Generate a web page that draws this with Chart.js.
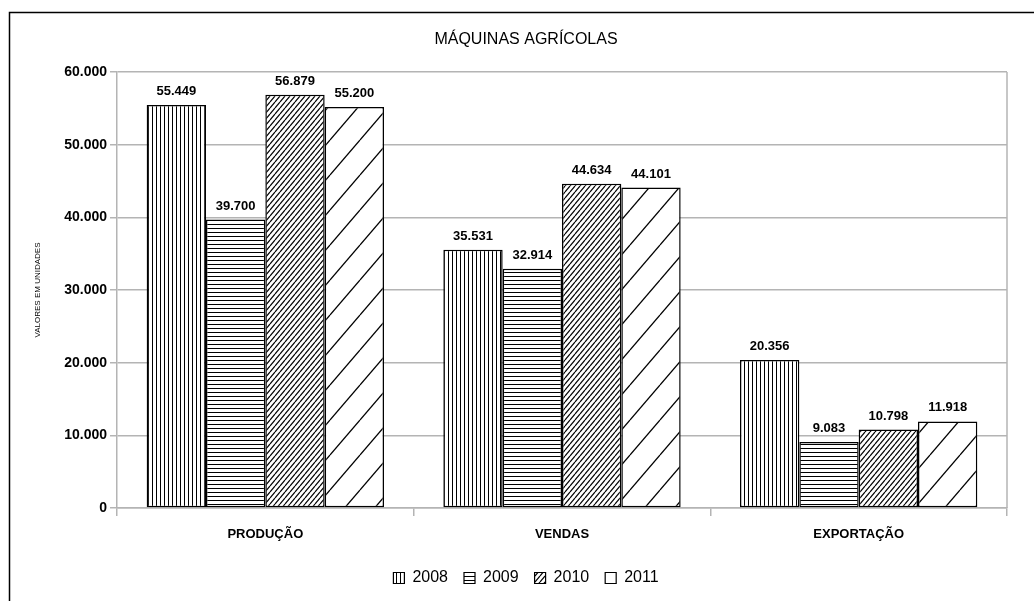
<!DOCTYPE html>
<html>
<head>
<meta charset="utf-8">
<script src="https://cdn.jsdelivr.net/npm/chart.js@4.4.1/dist/chart.umd.min.js"></script>
<style>
  html, body { margin: 0; padding: 0; background: #ffffff; }
  #wrap { width: 1034px; height: 601px; }
</style>
</head>
<body>
<div id="wrap"><canvas id="c" width="1034" height="601"></canvas></div>
<script>
// ---- data ----
const categories = ['PRODUÇÃO', 'VENDAS', 'EXPORTAÇÃO'];
const seriesNames = ['2008', '2009', '2010', '2011'];
const values2008 = [55449, 35531, 20356];
const values2009 = [39700, 32914, 9083];
const values2010 = [56879, 44634, 10798];
const values2011 = [55200, 44101, 11918];
const yTicks = [0, 10000, 20000, 30000, 40000, 50000, 60000];
const chartTitle = 'MÁQUINAS AGRÍCOLAS';
const yAxisTitle = 'VALORES EM UNIDADES';

const FONT = '"Liberation Sans", Arial, sans-serif';
const GRID = '#b4b4b4';

function fmt(n) {
  return String(n).replace(/\B(?=(\d{3})+(?!\d))/g, '.');
}

// ---- hatch patterns ----
function makePattern(w, h, drawFn) {
  const c = document.createElement('canvas');
  c.width = w; c.height = h;
  const g = c.getContext('2d');
  g.fillStyle = '#ffffff';
  g.fillRect(0, 0, w, h);
  g.strokeStyle = '#000000';
  g.fillStyle = '#000000';
  drawFn(g, w, h);
  return document.getElementById('c').getContext('2d').createPattern(c, 'repeat');
}
const patVertical = makePattern(4, 4, (g) => { g.fillRect(0, 0, 1, 4); });
const patHorizontal = makePattern(4, 4, (g) => { g.fillRect(0, 0, 4, 1); });
function diag(g, w, h, lw) {
  g.lineWidth = lw;
  [-w, 0, w].forEach(off => {
    g.beginPath();
    g.moveTo(off, h);
    g.lineTo(off + w, 0);
    g.stroke();
  });
}
const patDense = makePattern(5, 6, (g, w, h) => diag(g, w, h, 1.2));
const patSparse = makePattern(30, 35, (g, w, h) => diag(g, w, h, 1.3));

const patterns = [patVertical, patHorizontal, patDense, patSparse];
// legend swatches: the sparse hatch shows as a plain white box at swatch size
const legendFills = [patVertical, patHorizontal, patDense, '#ffffff'];
const allValues = [values2008, values2009, values2010, values2011];

const datasets = seriesNames.map((name, i) => ({
  label: name,
  data: allValues[i],
  backgroundColor: patterns[i],
  borderColor: '#000000',
  borderWidth: 1.5,
  borderSkipped: false,
  categoryPercentage: 0.8,
  barPercentage: 1.0
}));

// ---- plugins ----
const frameAndLabels = {
  id: 'frameAndLabels',
  beforeDraw(chart) {
    const ctx = chart.ctx;
    ctx.save();
    ctx.fillStyle = '#ffffff';
    ctx.fillRect(0, 0, chart.width, chart.height);
    ctx.strokeStyle = '#000000';
    ctx.lineWidth = 1.5;
    ctx.beginPath();
    ctx.moveTo(9.5, chart.height + 2);
    ctx.lineTo(9.5, 12.5);
    ctx.lineTo(chart.width + 2, 12.5);
    ctx.stroke();
    ctx.restore();
  },
  beforeDatasetsDraw(chart) {
    const a = chart.chartArea;
    const ctx = chart.ctx;
    ctx.save();
    ctx.strokeStyle = GRID;
    ctx.lineWidth = 1.5;
    ctx.beginPath();
    ctx.moveTo(a.right, a.top);
    ctx.lineTo(a.right, a.bottom);
    ctx.stroke();
    ctx.restore();
  },
  afterDatasetsDraw(chart) {
    const ctx = chart.ctx;
    ctx.save();
    ctx.font = 'bold 13px ' + FONT;
    ctx.fillStyle = '#000000';
    ctx.textAlign = 'center';
    ctx.textBaseline = 'bottom';
    chart.data.datasets.forEach((ds, di) => {
      const meta = chart.getDatasetMeta(di);
      meta.data.forEach((bar, i) => {
        ctx.fillText(fmt(ds.data[i]), bar.x, bar.y - 7);
      });
    });
    ctx.restore();
  }
};

new Chart(document.getElementById('c'), {
  type: 'bar',
  data: { labels: categories, datasets },
  options: {
    responsive: false,
    animation: false,
    devicePixelRatio: 1,
    layout: { padding: { left: 45, right: 27, top: 0, bottom: 5 } },
    plugins: {
      title: {
        display: true,
        text: chartTitle,
        color: '#000000',
        font: { family: FONT, size: 16, weight: 'normal', lineHeight: 1.2 },
        padding: { top: 30, bottom: 22.8 }
      },
      legend: {
        display: true,
        position: 'bottom',
        labels: {
          color: '#000000',
          font: { family: FONT, size: 16, weight: 'normal' },
          boxWidth: 11,
          boxHeight: 11,
          padding: 16,
          generateLabels(chart) {
            const items = Chart.defaults.plugins.legend.labels.generateLabels(chart);
            items.forEach((it, i) => { it.fillStyle = legendFills[i]; it.lineWidth = 1.2; });
            return items;
          }
        }
      },
      tooltip: { enabled: false }
    },
    scales: {
      x: {
        grid: {
          display: true,
          offset: true,
          drawOnChartArea: false,
          drawTicks: true,
          tickLength: 8,
          color: GRID,
          lineWidth: 1.5
        },
        border: { display: true, color: GRID, width: 1.5 },
        ticks: {
          color: '#000000',
          font: { family: FONT, size: 13, weight: 'bold' },
          padding: 11,
          maxRotation: 0
        },
        afterFit(scale) { scale.height = 46; }
      },
      y: {
        min: 0,
        max: 60000,
        afterBuildTicks(scale) { scale.ticks = yTicks.map(v => ({ value: v })); },
        grid: {
          color: GRID,
          lineWidth: 1.5,
          drawTicks: true,
          tickLength: 7
        },
        border: { display: true, color: GRID, width: 1.5 },
        ticks: {
          color: '#000000',
          font: { family: FONT, size: 14, weight: 'bold' },
          padding: 3,
          callback: (v) => fmt(v)
        },
        title: {
          display: true,
          text: yAxisTitle,
          color: '#000000',
          font: { family: FONT, size: 8, weight: 'normal' },
          padding: { top: -12, bottom: 0 }
        },
        afterFit(scale) { scale.width = 72; }
      }
    }
  },
  plugins: [frameAndLabels]
});
</script>
</body>
</html>
